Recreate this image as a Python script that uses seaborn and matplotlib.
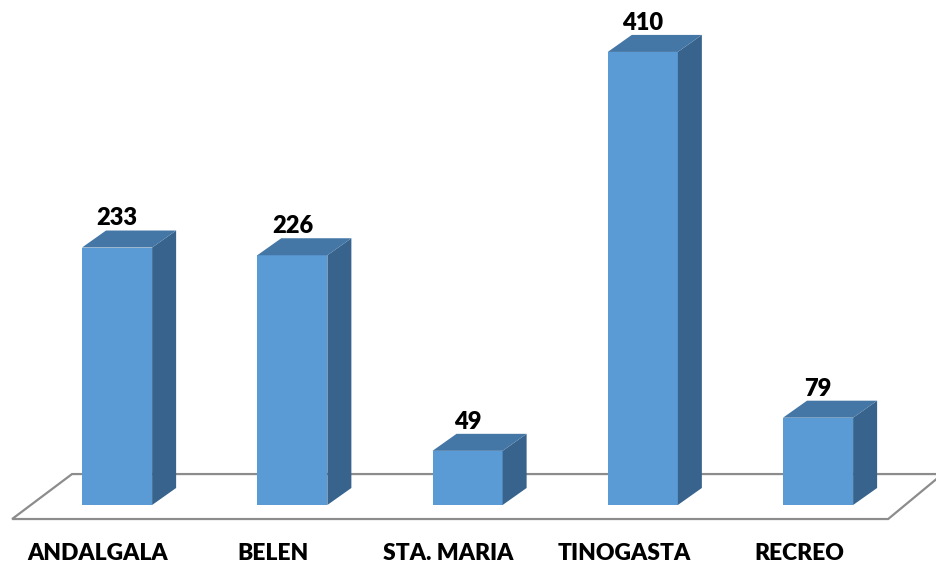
import matplotlib
matplotlib.use('Agg')
import pandas as pd
import matplotlib.pyplot as plt
import seaborn as sns
from matplotlib.patches import Polygon
from matplotlib.transforms import offset_copy

departamentos = ["ANDALGALA", "BELEN", "STA. MARIA", "TINOGASTA", "RECREO"]
casos = [233, 226, 49, 410, 79]

df = pd.DataFrame({"departamento": departamentos, "casos": casos})

sns.set_style("white")
plt.rcParams['font.family'] = ['Lato', 'DejaVu Sans']

fig = plt.figure(figsize=(9.36, 5.64), dpi=100)
ax = fig.add_axes([0, 0, 1, 1])

front = '#5B9BD5'
top_c = '#4577A6'
side_c = '#37638C'

sns.barplot(data=df, x="departamento", y="casos", color=front, width=0.4,
            saturation=1, linewidth=0, edgecolor='none', ax=ax, zorder=3)

ax.set_xlim(-0.668, 4.673)
ax.set_ylim(-53.4, 457)
ax.axis('off')

# depth of the fake 3D effect (data units)
dx, dy = 0.137, 15.4

# floor
floor = Polygon([(-0.599, -12.7), (-0.257, 28), (4.71, 28), (4.40, -12.7)],
                closed=True, facecolor='white', edgecolor='#8C8C8C',
                linewidth=1.6, zorder=1, clip_on=False)
ax.add_patch(floor)

for bar, val in zip(ax.patches[:len(casos)], casos):
    x0 = bar.get_x()
    w = bar.get_width()
    h = bar.get_height()
    x1 = x0 + w
    ax.add_patch(Polygon([(x1, 0), (x1 + dx, dy), (x1 + dx, h + dy), (x1, h)],
                         closed=True, facecolor=side_c, edgecolor='none', zorder=3))
    ax.add_patch(Polygon([(x0, h), (x0 + dx, h + dy), (x1 + dx, h + dy), (x1, h)],
                         closed=True, facecolor=top_c, edgecolor='none', zorder=3))
    ax.text(x0 + w / 2, h + dy + 1, str(val), ha='center', va='bottom',
            fontsize=17, fontweight='heavy', color='black', zorder=4)

lbl_tr = offset_copy(ax.transData, fig=fig, x=-19, y=0, units='dots')
for i, name in enumerate(departamentos):
    ax.text(i, -43.5, name, ha='center', va='center', fontsize=16.5,
            fontweight='heavy', color='black', transform=lbl_tr)

fig.savefig("out.png", dpi=100)
